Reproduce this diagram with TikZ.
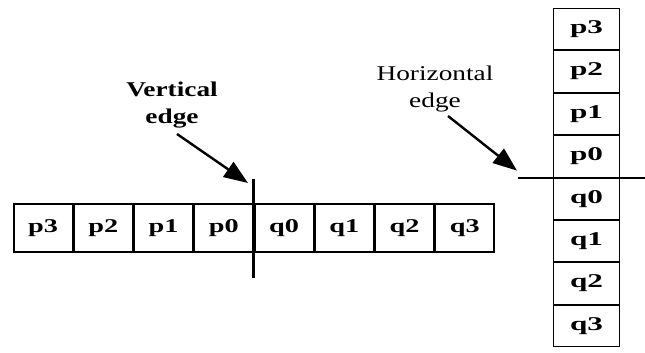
\documentclass[tikz,border=0pt]{standalone}
\usepackage{fontspec}
\setmainfont{Liberation Serif}
\newfontfamily\rowfont[FakeStretch=1.45]{Liberation Serif}
\newfontfamily\colfont[FakeStretch=1.6]{Liberation Serif}
\newfontfamily\notefont[FakeStretch=1.3]{Liberation Serif}
\usetikzlibrary{arrows.meta,positioning}

\tikzset{
  hcell/.style={draw,line width=1.6pt,minimum width=58.65pt,minimum height=48.4pt,
    inner sep=0pt,font=\rowfont\fontsize{19.5}{20}\selectfont\bfseries},
  vcell/.style={draw,line width=1pt,minimum width=66pt,minimum height=41.4pt,
    inner sep=0pt,font=\colfont\fontsize{19.5}{20}\selectfont\bfseries},
  note/.style={align=center,inner sep=0pt,font=\notefont\fontsize{21}{27}\selectfont},
  pointer/.style={line width=2.4pt,-{Triangle[length=24pt,width=18pt]}},
}

\begin{document}
\begin{tikzpicture}[x=1pt,y=-1pt]
  \useasboundingbox (0,0) rectangle (645,353);
  % row of samples across the vertical edge
  \node[hcell] (h1) at (43.1,228) {p3};
  \foreach \lab [count=\i from 2] in {p2,p1,p0,q0,q1,q2,q3} {
    \pgfmathtruncatemacro{\prev}{\i-1}
    \node[hcell,right=0pt of h\prev] (h\i) {\lab};
  }
  \draw[line width=3pt] ([yshift=24pt]h4.north east) -- ([yshift=-25pt]h4.south east);
  % column of samples across the horizontal edge
  \node[vcell] (v1) at (586.5,29.2) {p3};
  \foreach \lab [count=\i from 2] in {p2,p1,p0,q0,q1,q2,q3} {
    \pgfmathtruncatemacro{\prev}{\i-1}
    \node[vcell,below=0pt of v\prev] (v\i) {\lab};
  }
  \draw[line width=2pt] ([xshift=-35pt]v4.south west) -- ([xshift=25pt]v4.south east);
  % labels
  \node[note,font=\notefont\fontsize{21}{27}\selectfont\bfseries] (vnote) at (172,105) {Vertical\\edge};
  \coordinate (vtail) at (177,134);
  \draw[pointer] (vtail) -- ([xshift=-6pt,yshift=20pt]h4.north east);
  \node[note] (hnote) at (435,89) {Horizontal\\edge};
  \coordinate (htail) at (448,116);
  \draw[pointer] (htail) -- ([xshift=-36pt,yshift=7pt]v4.south west);
\end{tikzpicture}
\end{document}
